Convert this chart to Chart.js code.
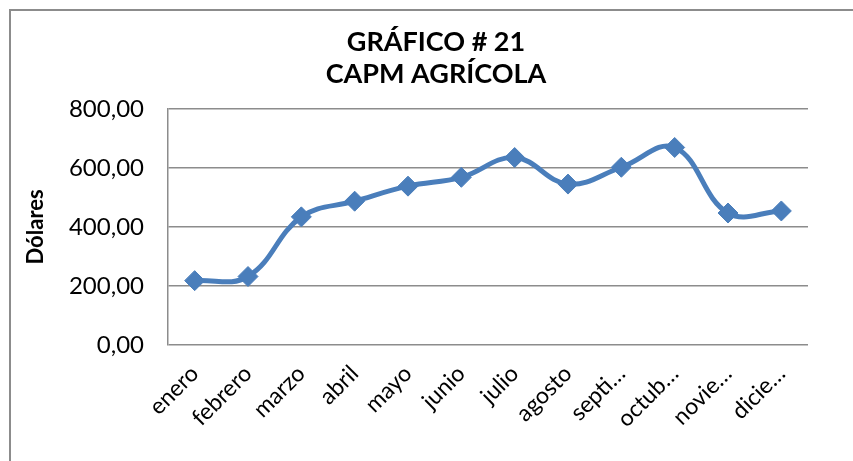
<!DOCTYPE html>
<html>
<head>
<meta charset="utf-8">
<script src="https://cdn.jsdelivr.net/npm/chart.js@4"></script>
<style>
html,body{margin:0;padding:0;background:#fff;}
#wrap{position:relative;width:853px;height:461px;overflow:hidden;}
#frame{position:absolute;left:9px;top:9px;width:900px;height:500px;border-left:2px solid #8c8c8c;border-top:2px solid #8c8c8c;}
canvas{position:absolute;left:0;top:0;}
</style>
</head>
<body>
<div id="wrap">
<div id="frame"></div>
<canvas id="c" width="853" height="461"></canvas>
</div>
<script>
const categories = ['enero','febrero','marzo','abril','mayo','junio','julio','agosto','septiembre','octubre','noviembre','diciembre'];
const tickLabels = ['enero','febrero','marzo','abril','mayo','junio','julio','agosto','septi…','octub…','novie…','dicie…'];
const values = [218, 232, 434, 487, 538, 568, 635, 545, 602, 669, 447, 454];
const yTicks = [0, 200, 400, 600, 800];
const titleLines = ['GRÁFICO # 21', 'CAPM AGRÍCOLA'];
const yTitle = 'Dólares';

const blue = '#4A7EBB';
const grid = '#8c8c8c';
const font = 'Lato, "Open Sans", sans-serif';

new Chart(document.getElementById('c'), {
  type: 'line',
  data: {
    labels: categories,
    datasets: [{
      data: values,
      borderColor: blue,
      backgroundColor: blue,
      borderWidth: 5,
      tension: 0.4,
      pointStyle: 'rectRot',
      pointRadius: 10,
      pointHoverRadius: 10,
      pointBackgroundColor: blue,
      pointBorderColor: blue,
      pointBorderWidth: 1
    }]
  },
  options: {
    responsive: false,
    animation: false,
    layout: { padding: { left: 19, right: 0, top: 0, bottom: 0 } },
    plugins: {
      legend: { display: false },
      tooltip: { enabled: false },
      title: {
        display: true,
        text: titleLines,
        color: '#000',
        font: { family: font, size: 27, weight: 'bold', lineHeight: 1.2 },
        padding: { top: 26, bottom: 18 }
      }
    },
    scales: {
      x: {
        type: 'category',
        offset: true,
        grid: { display: false, drawTicks: false },
        border: { display: false },
        ticks: {
          color: '#000',
          font: { family: font, size: 23 },
          maxRotation: 45,
          minRotation: 45,
          autoSkip: false,
          padding: 15,
          callback: (v, i) => tickLabels[i]
        },
        afterFit: s => { s.height = 116; }
      },
      y: {
        min: 0,
        max: 800,
        afterBuildTicks: s => { s.ticks = yTicks.map(v => ({ value: v })); },
        grid: { color: grid, lineWidth: 1.5, drawTicks: false },
        border: { display: true, color: grid, width: 1.5 },
        ticks: {
          color: '#000',
          font: { family: font, size: 24 },
          padding: 24,
          callback: v => v.toFixed(2).replace('.', ',')
        },
        title: {
          display: true,
          text: yTitle,
          color: '#000',
          font: { family: font, size: 22, weight: 'bold' },
          padding: { top: 4, bottom: 6 }
        },
        afterFit: s => { s.width = 149; }
      },
      yPad: {
        position: 'right',
        min: 0,
        max: 800,
        grid: { display: false, drawTicks: false },
        border: { display: false },
        ticks: { display: false },
        afterFit: s => { s.width = 45; }
      }
    }
  }
});
</script>
</body>
</html>
